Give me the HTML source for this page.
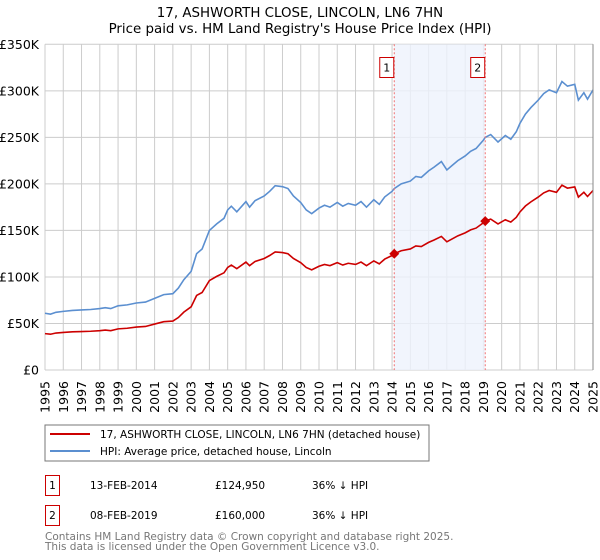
<!DOCTYPE html>
<html><head><meta charset="utf-8"><style>
body{margin:0;background:#fff;}
svg{display:block;font-family:"DejaVu Sans","Liberation Sans",sans-serif;}
</style></head><body>
<svg id="chart" width="600" height="560">
<text x="300" y="17" text-anchor="middle" font-size="13.4">17, ASHWORTH CLOSE, LINCOLN, LN6 7HN</text>
<text x="300" y="33" text-anchor="middle" font-size="13.4">Price paid vs. HM Land Registry's House Price Index (HPI)</text>
<g id="grid"></g><g id="shade"></g><g id="series"></g><g id="axes"></g>
<rect x="45" y="425" width="384" height="36" fill="#fff" stroke="#777"/>
<line x1="50" y1="434" x2="90" y2="434" stroke="#cc0000" stroke-width="2"/>
<text x="100" y="438" font-size="10.5">17, ASHWORTH CLOSE, LINCOLN, LN6 7HN (detached house)</text>
<line x1="50" y1="451" x2="90" y2="451" stroke="#5b8fd0" stroke-width="2"/>
<text x="100" y="455" font-size="10.5">HPI: Average price, detached house, Lincoln</text>
<g>
<rect x="45.5" y="475.5" width="14" height="20" fill="none" stroke="#cc0000"/>
<text x="52.5" y="489" text-anchor="middle" font-size="10.5">1</text>
<text x="90" y="489" font-size="10.5">13-FEB-2014</text>
<text x="215" y="489" font-size="10.5">£124,950</text>
<text x="312" y="489" font-size="10.5">36% ↓ HPI</text></g>
<g>
<rect x="45.5" y="505.5" width="14" height="20" fill="none" stroke="#cc0000"/>
<text x="52.5" y="519" text-anchor="middle" font-size="10.5">2</text>
<text x="90" y="519" font-size="10.5">08-FEB-2019</text>
<text x="215" y="519" font-size="10.5">£160,000</text>
<text x="312" y="519" font-size="10.5">36% ↓ HPI</text></g>
<text x="45" y="540" font-size="10.5" fill="#777">Contains HM Land Registry data © Crown copyright and database right 2025.</text>
<text x="45" y="550" font-size="10.5" fill="#777">This data is licensed under the Open Government Licence v3.0.</text>
</svg>
<script>
const years=[1995,1996,1997,1998,1999,2000,2001,2002,2003,2004,2005,2006,2007,2008,2009,2010,2011,2012,2013,2014,2015,2016,2017,2018,2019,2020,2021,2022,2023,2024,2025];
const yTicks=[0,50000,100000,150000,200000,250000,300000,350000];
const yTickLabels=["£0","£50K","£100K","£150K","£200K","£250K","£300K","£350K"];
const hpiDates=[1995,1995.3,1995.6,1996,1996.5,1997,1997.5,1998,1998.3,1998.6,1999,1999.5,2000,2000.5,2001,2001.5,2002,2002.3,2002.6,2003,2003.3,2003.6,2004,2004.4,2004.8,2005,2005.2,2005.5,2006,2006.2,2006.5,2007,2007.3,2007.6,2008,2008.3,2008.6,2009,2009.3,2009.6,2010,2010.3,2010.6,2011,2011.3,2011.6,2012,2012.3,2012.6,2013,2013.3,2013.6,2014,2014.12,2014.5,2015,2015.3,2015.6,2016,2016.3,2016.7,2017,2017.3,2017.6,2018,2018.3,2018.6,2019,2019.1,2019.4,2019.8,2020.2,2020.5,2020.8,2021,2021.3,2021.6,2022,2022.3,2022.6,2023,2023.3,2023.6,2024,2024.2,2024.5,2024.7,2025];
const hpiValues=[61000,60000,62000,63000,64000,64500,65000,66000,67000,66000,69000,70000,72000,73000,77000,81000,82000,88000,97000,106000,125000,130000,150000,157000,163000,172000,176000,170000,181000,175000,182000,187000,192000,198000,197000,195000,187000,180000,172000,168000,174000,177000,175000,180000,176000,179000,177000,181000,175000,183000,178000,186000,192000,195000,200000,203000,208000,207000,214000,218000,224000,215000,220000,225000,230000,235000,238000,247000,250000,253000,245000,252000,248000,256000,265000,275000,282000,290000,297000,301000,298000,310000,305000,307000,290000,298000,291000,301000];
const saleDates=[2014.12,2019.1];
const salePrices=[124950,160000];
const saleLabels=["1","2"];
const NS="http://www.w3.org/2000/svg";
const X0=45,X1=593,Y0=370,Y1=44.3;
const xs=t=>X0+(t-1995)*(X1-X0)/30;
const ys=v=>Y0-v*(Y0-Y1)/350000;
function mk(tag,attrs,parent){const e=document.createElementNS(NS,tag);for(const k in attrs)e.setAttribute(k,attrs[k]);document.getElementById(parent).appendChild(e);return e;}
years.forEach(y=>{
 const l=mk('line',{x1:xs(y),x2:xs(y),y1:Y1,y2:Y0,stroke:'#ccc'},'grid');
 
 
 const t=mk('text',{x:0,y:0,'font-size':'12.5','text-anchor':'end',transform:`translate(${xs(y)+4.5},381) rotate(-90)`},'axes');
 t.textContent=y;
 
 
});
yTicks.forEach((v,i)=>{
 const l=mk('line',{x1:X0,x2:X1,y1:ys(v),y2:ys(v),stroke:'#ccc'},'grid');
 
 
 const t=mk('text',{x:X0-6,y:ys(v)+4.5,'font-size':'12.5','text-anchor':'end'},'axes');
 t.textContent=yTickLabels[i];
 
 
});
const sh=mk('rect',{x:xs(saleDates[0]),y:Y1,width:xs(saleDates[1])-xs(saleDates[0]),height:Y0-Y1,fill:'#eef3fc',opacity:0.8},'shade');


function interp(t){for(let i=0;i<hpiDates.length-1;i++){if(t>=hpiDates[i]&&t<=hpiDates[i+1]){const f=(t-hpiDates[i])/(hpiDates[i+1]-hpiDates[i]);return hpiValues[i]+f*(hpiValues[i+1]-hpiValues[i]);}}return hpiValues[hpiValues.length-1];}
const ratio=salePrices[0]/interp(saleDates[0]);
const hp=mk('polyline',{points:hpiDates.map((d,i)=>xs(d)+','+ys(hpiValues[i])).join(' '),fill:'none',stroke:'#5b8fd0','stroke-width':1.6},'series');


const pp=mk('polyline',{points:hpiDates.map((d,i)=>xs(d)+','+ys(hpiValues[i]*ratio)).join(' '),fill:'none',stroke:'#cc0000','stroke-width':1.6},'series');


saleDates.forEach((d,i)=>{
 const x=xs(d);
 const vl=mk('line',{x1:x,x2:x,y1:Y1,y2:Y0,stroke:'#f07070','stroke-dasharray':'2,2'},'series');
 
 
 const y=ys(salePrices[i]);
 const dm=mk('polygon',{points:`${x},${y-5} ${x+5},${y} ${x},${y+5} ${x-5},${y}`,fill:'#cc0000'},'series');
 
 
 const b=mk('rect',{x:x-14.5,y:57.5,width:14,height:20,fill:'#fff',stroke:'#cc0000'},'series');
 
 
 const t=mk('text',{x:x-7.5,y:71.5,'font-size':'11','text-anchor':'middle'},'series');
 t.textContent=saleLabels[i];
 
 
});
const ax=mk('line',{x1:X1,x2:X1,y1:Y1,y2:Y0,stroke:'#888'},'axes');


</script>
</body></html>
